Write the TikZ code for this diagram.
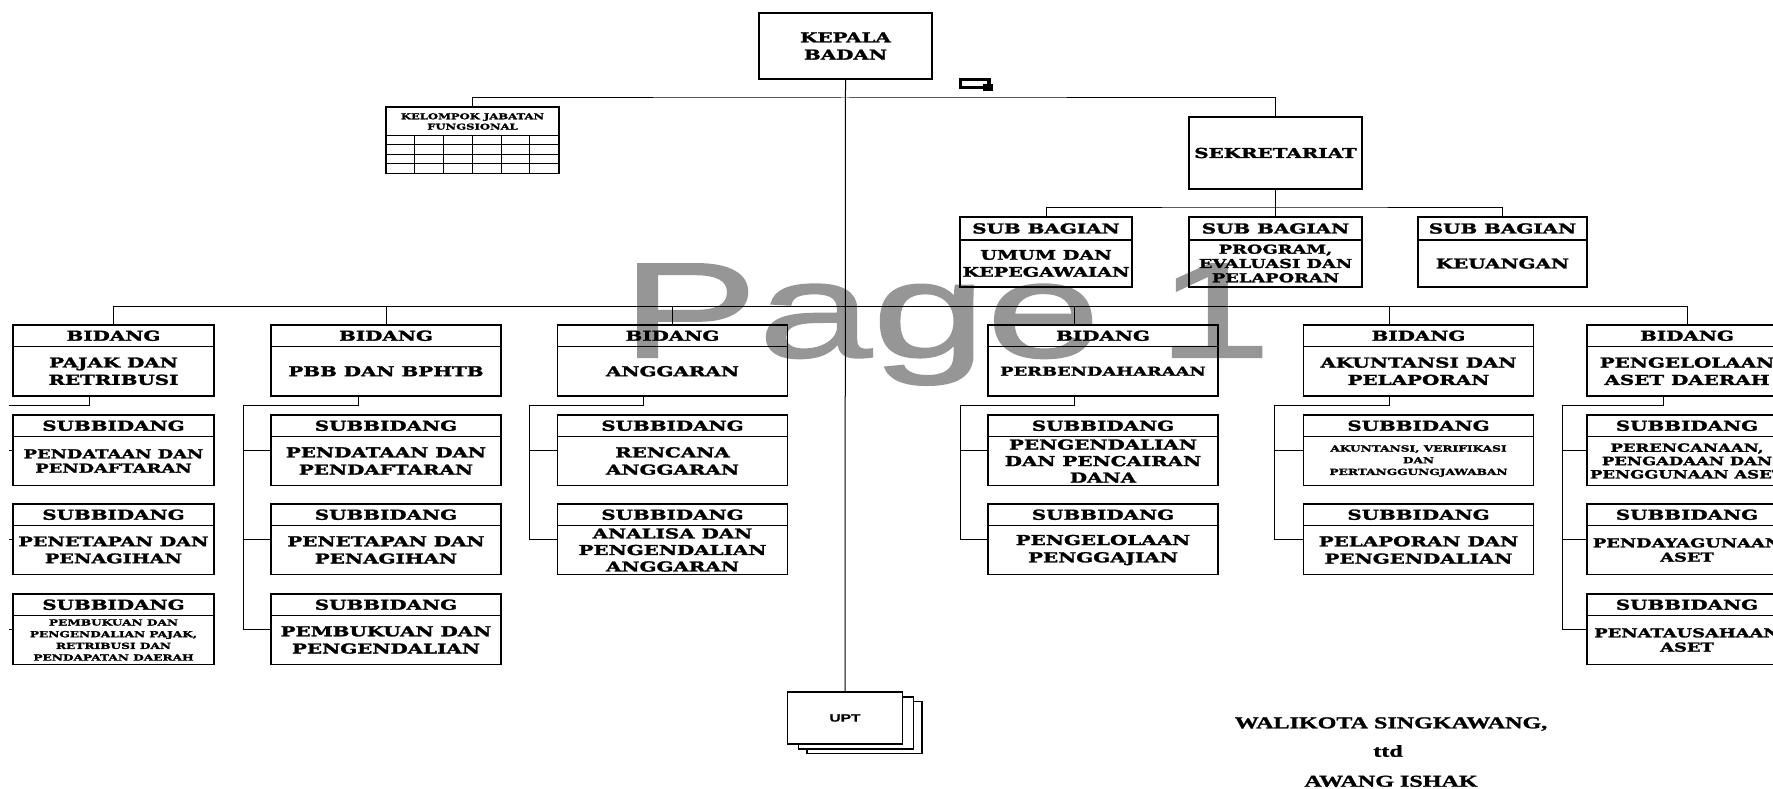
\documentclass[tikz,border=0pt]{standalone}
\usepackage{fontspec}
\usetikzlibrary{calc}
\newfontfamily\orgfont{DejaVu Serif}[FakeStretch=1.45, FakeBold=2]
\newfontfamily\signfont{Liberation Serif}[FakeStretch=1.45, FakeBold=1.5]
\newfontfamily\upfont{Liberation Sans}[FakeStretch=1.45, FakeBold=1]
\newfontfamily\markfont{Liberation Sans}[FakeStretch=1.52, FakeBold=1.5]
\definecolor{markgray}{RGB}{150,150,150}
\tikzset{
	orgframe/.style={draw=black, line width=1.2pt, inner sep=0pt, outer sep=0pt},
	conn/.style={draw=black, line width=1pt},
	gridline/.style={draw=black, line width=1pt},
	txtbig/.style={align=center, inner sep=0pt, font=\orgfont\bfseries\fontsize{13.7}{17.3}\selectfont},
	txtbeg/.style={align=center, inner sep=0pt, font=\orgfont\bfseries\fontsize{13.2}{17}\selectfont},
	txttri/.style={align=center, inner sep=0pt, font=\orgfont\bfseries\fontsize{13.7}{16.5}\selectfont},
	txtmid/.style={align=center, inner sep=0pt, font=\orgfont\bfseries\fontsize{12.3}{14.3}\selectfont},
	txtsml/.style={align=center, inner sep=0pt, font=\orgfont\bfseries\fontsize{11.4}{13.3}\selectfont},
	txttiny/.style={align=center, inner sep=0pt, font=\orgfont\bfseries\fontsize{8.4}{11.7}\selectfont},
	txtkjf/.style={align=center, inner sep=0pt, font=\orgfont\bfseries\fontsize{8}{10.3}\selectfont},
	txtsign/.style={anchor=base, inner sep=0pt, font=\signfont\bfseries\fontsize{16.6}{20}\selectfont},
	uptbox/.style={draw=black, line width=1.2pt, fill=white, minimum width=115pt, minimum height=52pt, inner sep=0pt}
}
% name, x, top, width, height, header height, header, body style, body
\newcommand{\orgbox}[9]{%
	\node[orgframe, minimum width=#4pt, minimum height=#5pt, anchor=north] (#1) at (#2,#3) {};
	\draw[orgframe] ([yshift=-#6pt]#1.north west) -- ([yshift=-#6pt]#1.north east);
	\node[txtbig] (#1-hd) at ([yshift=-#6pt/2]#1.north) {#7};
	\node[#8] (#1-tx) at ($(#1.south)!0.5!([yshift=-#6pt]#1.north)$) {#9};
}
\begin{document}
\begin{tikzpicture}[x=1pt, y=-1pt]
	\useasboundingbox (0,0) rectangle (1773,789);
	\node[anchor=base west, inner sep=0pt, text=markgray, font=\markfont\fontsize{135}{135}\selectfont] (mark) at (621,357) {Page 1};

	\node[orgframe, minimum width=173pt, minimum height=66pt, txtbig] (kepala) at (845.5,46) {KEPALA\\BADAN};
	\draw[line width=3.5pt] (960.5,79.5) rectangle (989,87.5);
	\fill (983,84) rectangle (993,91);

	\node[orgframe, minimum width=173pt, minimum height=66.6pt] (kjf) at (472.5,140.4) {};
	\node[txtkjf] (kjf-tx) at (472.5,121.5) {KELOMPOK JABATAN\\FUNGSIONAL};
	\draw[gridline] (386,135.7) -- (559,135.7);
	\draw[gridline] (386,145) -- (559,145);
	\draw[gridline] (386,154.3) -- (559,154.3);
	\draw[gridline] (386,164) -- (559,164);
	\draw[gridline] (414.3,135.7) -- (414.3,173.7);
	\draw[gridline] (443.1,135.7) -- (443.1,173.7);
	\draw[gridline] (472.5,135.7) -- (472.5,173.7);
	\draw[gridline] (501,135.7) -- (501,173.7);
	\draw[gridline] (529.6,135.7) -- (529.6,173.7);

	\node[orgframe, minimum width=173pt, minimum height=72pt, txtbig] (sekr) at (1275.5,153) {SEKRETARIAT};

	\orgbox{sb1}{1046}{217}{172}{70}{23}{SUB BAGIAN}{txtbeg}{UMUM DAN\\KEPEGAWAIAN}
	\orgbox{sb2}{1275.5}{217}{173}{70}{23}{SUB BAGIAN}{txtmid}{PROGRAM,\\EVALUASI DAN\\PELAPORAN}
	\orgbox{sb3}{1502.5}{217}{169}{70}{23}{SUB BAGIAN}{txtbig}{KEUANGAN}

	\orgbox{b1}{113.5}{325}{201}{71}{21.5}{BIDANG}{txtbig}{PAJAK DAN\\RETRIBUSI}
	\orgbox{b2}{386}{325}{230}{71}{21.5}{BIDANG}{txtbig}{PBB DAN BPHTB}
	\orgbox{b3}{672.5}{325}{230}{71}{21.5}{BIDANG}{txtbig}{ANGGARAN}
	\orgbox{b4}{1103}{325}{230}{71}{21.5}{BIDANG}{txtmid}{PERBENDAHARAAN}
	\orgbox{b5}{1418.5}{325}{230}{71}{21.5}{BIDANG}{txtbig}{AKUNTANSI DAN\\PELAPORAN}
	\orgbox{b6}{1687}{325}{200}{71}{21.5}{BIDANG}{txtbig}{PENGELOLAAN\\ASET DAERAH}

	\orgbox{s11}{113.5}{415}{201}{70.5}{21.5}{SUBBIDANG}{txtmid}{PENDATAAN DAN\\PENDAFTARAN}
	\orgbox{s12}{113.5}{504}{201}{70.5}{21.5}{SUBBIDANG}{txtbeg}{PENETAPAN DAN\\PENAGIHAN}
	\orgbox{s13}{113.5}{594}{201}{70.5}{21.5}{SUBBIDANG}{txttiny}{PEMBUKUAN DAN\\PENGENDALIAN PAJAK,\\RETRIBUSI DAN\\PENDAPATAN DAERAH}
	\orgbox{s21}{386}{415}{230}{70.5}{21.5}{SUBBIDANG}{txtbig}{PENDATAAN DAN\\PENDAFTARAN}
	\orgbox{s22}{386}{504}{230}{70.5}{21.5}{SUBBIDANG}{txtbig}{PENETAPAN DAN\\PENAGIHAN}
	\orgbox{s23}{386}{594}{230}{70.5}{21.5}{SUBBIDANG}{txtbig}{PEMBUKUAN DAN\\PENGENDALIAN}
	\orgbox{s31}{672.5}{415}{230}{70.5}{21.5}{SUBBIDANG}{txtbig}{RENCANA\\ANGGARAN}
	\orgbox{s32}{672.5}{504}{230}{70.5}{21.5}{SUBBIDANG}{txttri}{ANALISA DAN\\PENGENDALIAN\\ANGGARAN}
	\orgbox{s41}{1103}{415}{230}{70.5}{21.5}{SUBBIDANG}{txttri}{PENGENDALIAN\\DAN PENCAIRAN\\DANA}
	\orgbox{s42}{1103}{504}{230}{70.5}{21.5}{SUBBIDANG}{txtbig}{PENGELOLAAN\\PENGGAJIAN}
	\orgbox{s51}{1418.5}{415}{230}{70.5}{21.5}{SUBBIDANG}{txttiny}{AKUNTANSI, VERIFIKASI\\DAN\\PERTANGGUNGJAWABAN}
	\orgbox{s52}{1418.5}{504}{230}{70.5}{21.5}{SUBBIDANG}{txtbig}{PELAPORAN DAN\\PENGENDALIAN}
	\orgbox{s61}{1687}{415}{200}{70.5}{21.5}{SUBBIDANG}{txtsml}{PERENCANAAN,\\PENGADAAN DAN\\PENGGUNAAN ASET}
	\orgbox{s62}{1687}{504}{200}{70.5}{21.5}{SUBBIDANG}{txtmid}{PENDAYAGUNAAN\\ASET}
	\orgbox{s63}{1687}{594}{200}{70.5}{21.5}{SUBBIDANG}{txtmid}{PENATAUSAHAAN\\ASET}

	\node[uptbox] (upt-c) at (864.5,727.5) {};
	\node[uptbox] (upt-b) at (856,723) {};
	\node[uptbox, font=\upfont\bfseries\fontsize{10.7}{12}\selectfont] (upt) at (845,718) {UPT};

	\coordinate (topbus) at (845,98);
	\coordinate (sbbus) at (1275.5,207);
	\coordinate (bus) at (845,306);
	\draw[conn] (kepala.south) -- (upt.north);
	\draw[conn] (kjf.north) |- (topbus) -| (sekr.north);
	\draw[conn] (sekr.south) -- (sb2.north);
	\draw[conn] (sb1.north) |- (sbbus) -| (sb3.north);
	\draw[conn] (b1.north) |- (bus) -| (b6.north);
	\draw[conn] (b2.north) |- (bus);
	\draw[conn] (b3.north) |- (bus);
	\draw[conn] ($(b4.north)+(-29,0)$) |- (bus);
	\draw[conn] ($(b5.north)+(-29,0)$) |- (bus);

	\begin{scope}
		\clip (9,0) rectangle (1773,789);
		\draw[conn] ($(b1.south)+(-24,0)$) -- ++(0,9) -| ($(s13.west)+(-28,0)$) -- (s13.west);
		\draw[conn] (s11.west) -- ++(-28,0);
		\draw[conn] (s12.west) -- ++(-28,0);
	\end{scope}
	\draw[conn] ($(b2.south)+(-28,0)$) -- ++(0,9) -| ($(s23.west)+(-28,0)$) -- (s23.west);
	\draw[conn] (s21.west) -- ++(-28,0);
	\draw[conn] (s22.west) -- ++(-28,0);
	\draw[conn] ($(b3.south)+(-29,0)$) -- ++(0,9) -| ($(s32.west)+(-28,0)$) -- (s32.west);
	\draw[conn] (s31.west) -- ++(-28,0);
	\draw[conn] ($(b4.south)+(-29,0)$) -- ++(0,9) -| ($(s42.west)+(-28,0)$) -- (s42.west);
	\draw[conn] (s41.west) -- ++(-28,0);
	\draw[conn] ($(b5.south)+(-29,0)$) -- ++(0,9) -| ($(s52.west)+(-29,0)$) -- (s52.west);
	\draw[conn] (s51.west) -- ++(-29,0);
	\draw[conn] ($(b6.south)+(-24,0)$) -- ++(0,9) -| ($(s63.west)+(-25,0)$) -- (s63.west);
	\draw[conn] (s61.west) -- ++(-25,0);
	\draw[conn] (s62.west) -- ++(-25,0);

	\node[txtsign] (wali) at (1391,728.3) {WALIKOTA SINGKAWANG,};
	\node[txtsign] (ttd) at (1388,756.7) {ttd};
	\node[txtsign] (nama) at (1391,786.7) {AWANG ISHAK};
\end{tikzpicture}
\end{document}
